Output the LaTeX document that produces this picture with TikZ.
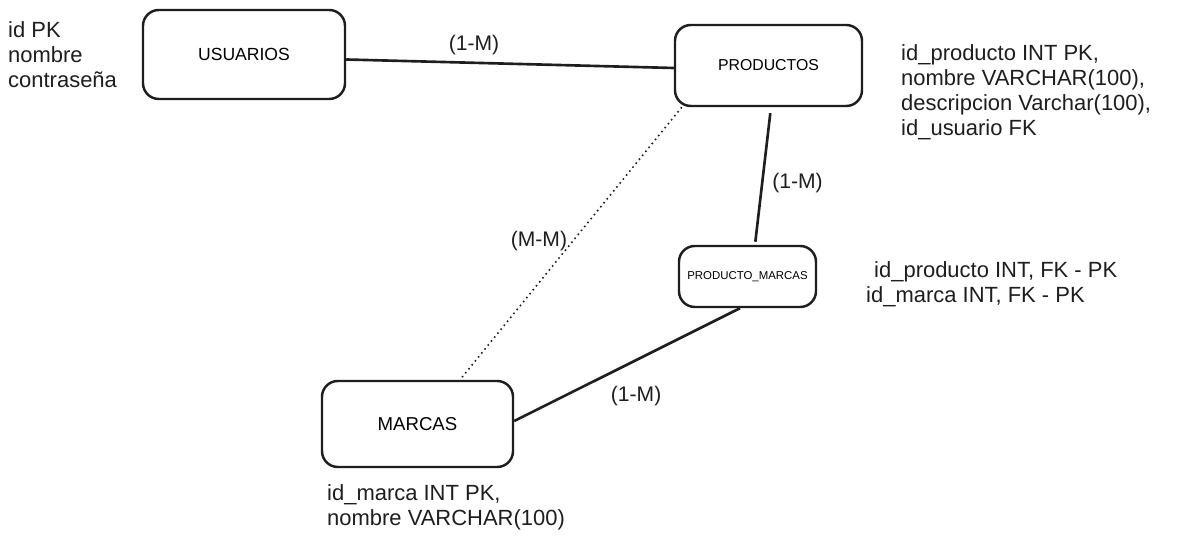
\documentclass[tikz,border=0pt]{standalone}
\usepackage{fontspec}
\setmainfont{Liberation Sans}
\setsansfont{Liberation Sans}
\usetikzlibrary{arrows.meta, positioning}
\definecolor{cink}{HTML}{1E1E1E}
\tikzset{
  every picture/.style={font=\sffamily, line width=1.4pt},
  entity/.style={draw=cink, rounded corners=9pt, align=center, inner sep=0pt, minimum width=#1},
  entity/.default=3.8cm,
  rel/.style={draw=cink, line width=1.5pt},
  manyrel/.style={draw=cink, dotted, line width=0.9pt},
  card/.style={font=\sffamily\fontsize{12}{14}\selectfont, text=cink, inner sep=2pt},
  attrs/.style={font=\sffamily\fontsize{12.5}{14.2}\selectfont, text=cink, align=left, inner sep=0pt},
}

\begin{document}
\begin{tikzpicture}
  \useasboundingbox (0,0) rectangle (23.66,10.8);
  % entities
  \node[entity=4.04cm, minimum height=1.78cm, font=\sffamily\fontsize{10}{12}\selectfont] (usuarios) at (4.88,9.71) {USUARIOS};
  \node[entity=3.74cm, minimum height=1.62cm, font=\sffamily\fontsize{9}{11}\selectfont] (productos) at (15.37,9.49) {PRODUCTOS};
  \node[entity=2.74cm, minimum height=1.22cm, font=\sffamily\fontsize{6.5}{8}\selectfont] (prodmarcas) at (14.95,5.27) {PRODUCTO\_MARCAS};
  \node[entity=3.82cm, minimum height=1.72cm, font=\sffamily\fontsize{10.6}{12}\selectfont] (marcas) at (8.35,2.32) {MARCAS};
  % attributes
  \node[attrs, anchor=north west] (usuariosattr) at (0.14,10.4) {id PK\\nombre\\contraseña};
  \node[attrs, anchor=north west] (productosattr) at (18.0,9.93) {id\_producto INT PK,\\nombre VARCHAR(100),\\descripcion Varchar(100),\\id\_usuario FK};
  \node[attrs, anchor=north west] (prodmarcasattr) at (17.3,5.6) {\hspace*{0.16cm}id\_producto INT, FK - PK\\id\_marca INT, FK - PK};
  \node[attrs, anchor=north west] (marcasattr) at (6.52,1.13) {id\_marca INT PK,\\nombre VARCHAR(100)};
  % relations
  \draw[rel] ([yshift=-0.1cm]usuarios.east) -- ([yshift=-0.05cm]productos.west)
    node[card, above=2pt, pos=0.39] (c1) {(1-M)};
  \draw[rel, shorten <=0.12cm, shorten >=0.06cm] ([xshift=0.05cm]productos.south) -- ([xshift=0.15cm]prodmarcas.north)
    node[card, right=3pt, pos=0.55] (c2) {(1-M)};
  \draw[rel] ([xshift=-0.15cm]prodmarcas.south) -- ([yshift=0.06cm]marcas.east)
    node[card, below=0.42cm, pos=0.46] (c3) {(1-M)};
  \draw[manyrel] ([xshift=0.16cm]productos.south west) -- ([xshift=0.85cm]marcas.north)
    node[card, left=1pt, pos=0.49] (c4) {(M-M)};
\end{tikzpicture}
\end{document}
